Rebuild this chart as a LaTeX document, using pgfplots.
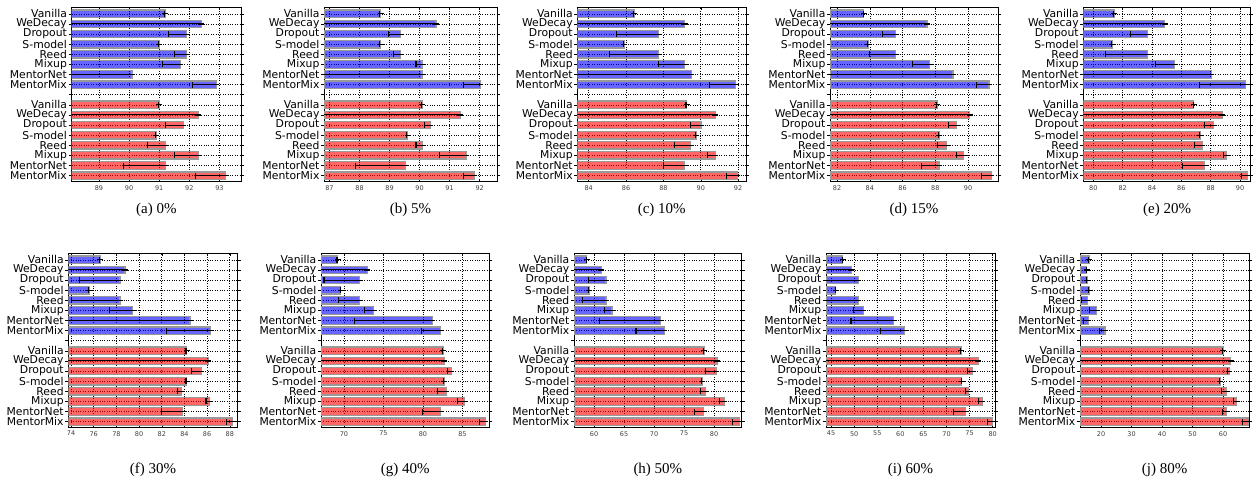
\documentclass[border=0pt]{standalone}
\usepackage{fontspec}
\setmainfont{Liberation Serif}
\newfontfamily\dejavu{DejaVu Sans}
\usepackage{pgfplots}
\pgfplotsset{compat=1.18}
\pgfplotsset{
 panel/.style={
  scale only axis, height=174.4pt,
  xbar, bar width=0.74, /pgf/bar shift=0pt,
  ymin=-0.6, ymax=16.65,
  ytick={0,...,16},
  yticklabels={MentorMix,MentorNet,Mixup,Reed,S-model,Dropout,WeDecay,Vanilla,{},MentorMix,MentorNet,Mixup,Reed,S-model,Dropout,WeDecay,Vanilla},
  yticklabel style={font=\dejavu\fontsize{10.8}{11}\selectfont, inner sep=1.5pt},
  xticklabel style={font=\dejavu\fontsize{6.5}{7}\selectfont, text=black!75},
  /pgf/number format/assume math mode=true,
  grid=major, major grid style={black, dotted, line width=0.6pt},
  axis line style={black, line width=0.8pt},
  tick style={black, line width=0.5pt}, major tick length=3pt,
  xlabel style={font=\fontsize{15}{16}\selectfont, at={(axis description cs:0.5,-0.16)}, anchor=center},
 },
 row2/.style={xlabel style={at={(axis description cs:0.5,-0.24)}}},
 eb/.style={error bars/.cd, x dir=both, x explicit, error mark=|,
   error bar style={black, line width=1.0pt, draw opacity=1},
   error mark options={black, line width=1.1pt, mark size=3pt, draw opacity=1}},
 bb/.style={xbar, fill=blue, fill opacity=0.6, draw=black!40, line width=1.3pt, eb},
 rb/.style={xbar, fill=red, fill opacity=0.6, draw=black!40, line width=1.3pt, eb},
}
\begin{document}
\begin{tikzpicture}
\useasboundingbox (0,0) rectangle (1253pt,489pt);
% (a)
\begin{axis}[panel, at={(71.5pt,481.7pt)}, anchor=north west, width=169.5pt,
  xmin=88.09, xmax=93.72, xtick={89,90,91,92,93}, xlabel={(a) 0\%}]
\addplot[bb] coordinates {(91.2,16) += (0,0) -= (0.03,0) (92.4,15) += (0,0) -= (200,0) (91.9,14) += (0,0) -= (0.6,0) (91.0,13) += (0,0) -= (0.02,0) (91.9,12) += (0,0) -= (0.4,0) (91.7,11) += (0,0) -= (0.6,0) (90.1,10) += (0,0) -= (200,0) (92.9,9) += (0,0) -= (0.8,0)};
\addplot[rb] coordinates {(91.0,7) += (0,0) -= (0.02,0) (92.3,6) += (0,0) -= (200,0) (91.8,5) += (0,0) -= (0.6,0) (90.9,4) += (0,0) -= (0.02,0) (91.2,3) += (0,0) -= (0.6,0) (92.3,2) += (0,0) -= (0.8,0) (91.2,1) += (0,0) -= (1.4,0) (93.2,0) += (0,0) -= (1.0,0)};
\end{axis}
% (b)
\begin{axis}[panel, at={(324pt,481.7pt)}, anchor=north west, width=173pt,
  xmin=86.82, xmax=92.58, xtick={87,88,89,90,91,92}, xlabel={(b) 5\%}]
\addplot[bb] coordinates {(88.7,16) += (0,0) -= (0.03,0) (90.55,15) += (0,0) -= (200,0) (89.36,14) += (0,0) -= (0.39,0) (88.7,13) += (0,0) -= (0.03,0) (89.36,12) += (0,0) -= (0.23,0) (90.08,11) += (0,0) -= (0.2,0) (90.08,10) += (0,0) -= (200,0) (92.02,9) += (0,0) -= (0.55,0)};
\addplot[rb] coordinates {(90.08,7) += (0,0) -= (0.03,0) (91.36,6) += (0,0) -= (200,0) (90.36,5) += (0,0) -= (0.2,0) (89.6,4) += (0,0) -= (0.03,0) (90.08,3) += (0,0) -= (0.2,0) (91.56,2) += (0,0) -= (0.89,0) (89.52,1) += (0,0) -= (1.66,0) (91.82,0) += (0,0) -= (0.35,0)};
\end{axis}
% (c)
\begin{axis}[panel, at={(577.3pt,481.7pt)}, anchor=north west, width=168.8pt,
  xmin=83.39, xmax=92.43, xtick={84,86,88,90,92}, xlabel={(c) 10\%}]
\addplot[bb] coordinates {(86.43,16) += (0,0) -= (0.04,0) (89.13,15) += (0,0) -= (200,0) (87.73,14) += (0,0) -= (2.23,0) (85.9,13) += (0,0) -= (0.04,0) (87.73,12) += (0,0) -= (2.64,0) (89.13,11) += (0,0) -= (1.4,0) (89.5,10) += (0,0) -= (200,0) (91.86,9) += (0,0) -= (1.4,0)};
\addplot[rb] coordinates {(89.25,7) += (0,0) -= (0.04,0) (90.77,6) += (0,0) -= (200,0) (90.02,5) += (0,0) -= (0.56,0) (89.75,4) += (0,0) -= (0.04,0) (89.46,3) += (0,0) -= (0.89,0) (90.77,2) += (0,0) -= (0.41,0) (89.13,1) += (0,0) -= (1.13,0) (91.96,0) += (0,0) -= (0.57,0)};
\end{axis}
% (d)
\begin{axis}[panel, at={(830pt,481.7pt)}, anchor=north west, width=168pt,
  xmin=81.57, xmax=91.83, xtick={82,84,86,88,90}, xlabel={(d) 15\%}]
\addplot[bb] coordinates {(83.63,16) += (0,0) -= (0.04,0) (87.49,15) += (0,0) -= (200,0) (85.58,14) += (0,0) -= (0.78,0) (83.9,13) += (0,0) -= (0.04,0) (85.58,12) += (0,0) -= (1.58,0) (87.65,11) += (0,0) -= (1.02,0) (89.07,10) += (0,0) -= (200,0) (91.27,9) += (0,0) -= (0.77,0)};
\addplot[rb] coordinates {(88.1,7) += (0,0) -= (0.04,0) (90.1,6) += (0,0) -= (200,0) (89.3,5) += (0,0) -= (0.47,0) (88.22,4) += (0,0) -= (0.04,0) (88.7,3) += (0,0) -= (0.58,0) (89.74,2) += (0,0) -= (0.47,0) (88.22,1) += (0,0) -= (1.04,0) (91.41,0) += (0,0) -= (0.61,0)};
\end{axis}
% (e)
\begin{axis}[panel, at={(1083.3pt,481.7pt)}, anchor=north west, width=167.4pt,
  xmin=79.32, xmax=90.73, xtick={80,82,84,86,88,90}, xlabel={(e) 20\%}]
\addplot[bb] coordinates {(81.42,16) += (0,0) -= (0.05,0) (84.86,15) += (0,0) -= (200,0) (83.7,14) += (0,0) -= (1.19,0) (81.28,13) += (0,0) -= (0.05,0) (83.7,12) += (0,0) -= (2.9,0) (85.53,11) += (0,0) -= (1.31,0) (88.04,10) += (0,0) -= (200,0) (90.39,9) += (0,0) -= (3.13,0)};
\addplot[rb] coordinates {(86.85,7) += (0,0) -= (0.05,0) (88.8,6) += (0,0) -= (200,0) (88.2,5) += (0,0) -= (0.65,0) (87.3,4) += (0,0) -= (0.05,0) (87.4,3) += (0,0) -= (0.5,0) (89.1,2) += (0,0) -= (0.2,0) (87.6,1) += (0,0) -= (1.5,0) (90.5,0) += (0,0) -= (0.4,0)};
\end{axis}
% (f)
\begin{axis}[panel, row2, at={(68.3pt,235.7pt)}, anchor=north west, width=169.4pt,
  xmin=73.76, xmax=88.7, xtick={74,76,...,88}, xlabel={(f) 30\%}]
\addplot[bb] coordinates {(76.56,16) += (0,0) -= (0.06,0) (78.76,15) += (0,0) -= (200,0) (78.32,14) += (0,0) -= (3.58,0) (75.62,13) += (0,0) -= (0.06,0) (78.32,12) += (0,0) -= (4.32,0) (79.44,11) += (0,0) -= (2.06,0) (84.5,10) += (0,0) -= (200,0) (86.32,9) += (0,0) -= (3.88,0)};
\addplot[rb] coordinates {(84.2,7) += (0,0) -= (0.06,0) (86.1,6) += (0,0) -= (200,0) (85.5,5) += (0,0) -= (0.9,0) (84.2,4) += (0,0) -= (0.06,0) (83.76,3) += (0,0) -= (0.35,0) (86.18,2) += (0,0) -= (0.28,0) (83.85,1) += (0,0) -= (1.85,0) (88.24,0) += (0,0) -= (0.56,0)};
\end{axis}
% (g)
\begin{axis}[panel, row2, at={(321pt,235.7pt)}, anchor=north west, width=168.3pt,
  xmin=67.1, xmax=88.4, xtick={70,75,80,85}, xlabel={(g) 40\%}]
\addplot[bb] coordinates {(69.2,16) += (0,0) -= (0.08,0) (72.94,15) += (0,0) -= (200,0) (71.93,14) += (0,0) -= (4.45,0) (69.6,13) += (0,0) -= (0.08,0) (71.93,12) += (0,0) -= (2.63,0) (73.7,11) += (0,0) -= (1.1,0) (81.2,10) += (0,0) -= (9.9,0) (82.2,9) += (0,0) -= (2.4,0)};
\addplot[rb] coordinates {(82.6,7) += (0,0) -= (0.08,0) (82.7,6) += (0,0) -= (200,0) (83.6,5) += (0,0) -= (0.5,0) (82.7,4) += (0,0) -= (0.08,0) (82.9,3) += (0,0) -= (1.1,0) (85.3,2) += (0,0) -= (0.9,0) (82.2,1) += (0,0) -= (2.3,0) (87.9,0) += (0,0) -= (0.7,0)};
\end{axis}
% (h)
\begin{axis}[panel, row2, at={(574pt,235.7pt)}, anchor=north west, width=167.7pt,
  xmin=56.67, xmax=84.6, xtick={60,65,...,80}, xlabel={(h) 50\%}]
\addplot[bb] coordinates {(58.8,16) += (0,0) -= (0.1,0) (61.2,15) += (0,0) -= (200,0) (62.0,14) += (0,0) -= (2.9,0) (59.2,13) += (0,0) -= (0.1,0) (62.0,12) += (0,0) -= (3.9,0) (63.0,11) += (0,0) -= (1.3,0) (71.1,10) += (0,0) -= (10.2,0) (71.7,9) += (0,0) -= (4.7,0)};
\addplot[rb] coordinates {(78.3,7) += (0,0) -= (0.1,0) (80.5,6) += (0,0) -= (200,0) (80.3,5) += (0,0) -= (1.8,0) (78.0,4) += (0,0) -= (0.1,0) (78.6,3) += (0,0) -= (0.9,0) (81.7,2) += (0,0) -= (0.8,0) (78.2,1) += (0,0) -= (1.5,0) (84.2,0) += (0,0) -= (1.2,0)};
\end{axis}
% (i)
\begin{axis}[panel, row2, at={(826pt,235.7pt)}, anchor=north west, width=169pt,
  xmin=43.9, xmax=80.5, xtick={45,50,...,80}, xlabel={(i) 60\%}]
\addplot[bb] coordinates {(47.5,16) += (0,0) -= (0.1,0) (49.4,15) += (0,0) -= (200,0) (50.9,14) += (0,0) -= (200,0) (46.0,13) += (0,0) -= (0.1,0) (50.9,12) += (0,0) -= (200,0) (52.0,11) += (0,0) -= (2.1,0) (58.5,10) += (0,0) -= (9.2,0) (60.9,9) += (0,0) -= (5.2,0)};
\addplot[rb] coordinates {(73.2,7) += (0,0) -= (0.1,0) (76.8,6) += (0,0) -= (200,0) (75.6,5) += (0,0) -= (1.0,0) (73.3,4) += (0,0) -= (0.1,0) (74.8,3) += (0,0) -= (0.6,0) (77.7,2) += (0,0) -= (0.8,0) (74.1,1) += (0,0) -= (2.6,0) (80.0,0) += (0,0) -= (1.2,0)};
\end{axis}
% (j)
\begin{axis}[panel, row2, at={(1080pt,235.7pt)}, anchor=north west, width=169.3pt,
  xmin=13.1, xmax=68.6, xtick={20,30,...,60}, xlabel={(j) 80\%}]
\addplot[bb] coordinates {(16.2,16) += (0,0) -= (0.3,0) (15.3,15) += (0,0) -= (0.2,0) (15.5,14) += (0,0) -= (0.2,0) (16.0,13) += (0,0) -= (0.2,0) (15.5,12) += (0,0) -= (1.8,0) (18.4,11) += (0,0) -= (2.2,0) (15.8,10) += (0,0) -= (1.6,0) (21.3,9) += (0,0) -= (1.9,0)};
\addplot[rb] coordinates {(60.0,7) += (0,0) -= (0.2,0) (62.5,6) += (0,0) -= (200,0) (62.1,5) += (0,0) -= (0.7,0) (59.0,4) += (0,0) -= (0.2,0) (61.0,3) += (0,0) -= (1.4,0) (64.5,2) += (0,0) -= (1.1,0) (61.2,1) += (0,0) -= (1.4,0) (68.3,0) += (0,0) -= (1.9,0)};
\end{axis}
\end{tikzpicture}
\end{document}
